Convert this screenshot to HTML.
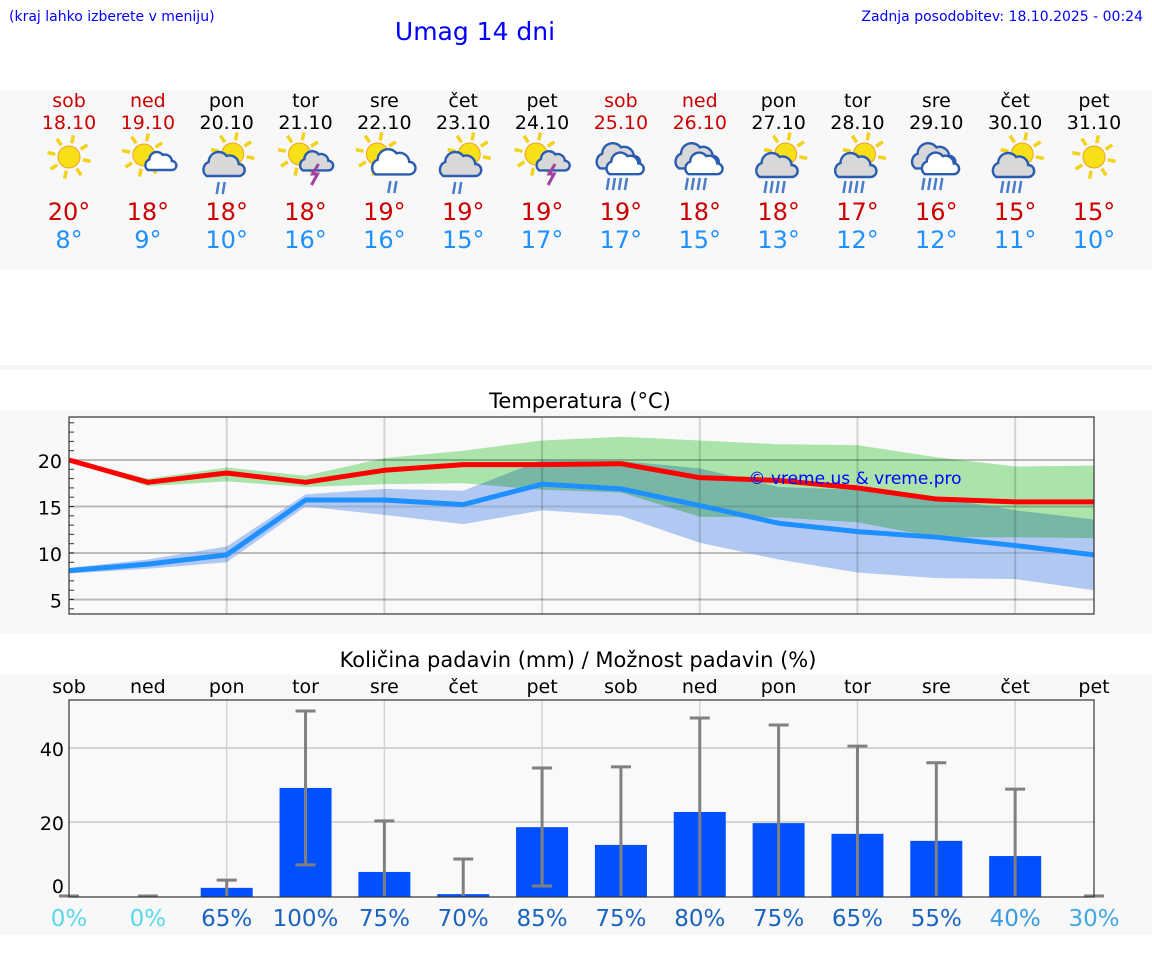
<!DOCTYPE html>
<html><head><meta charset="utf-8"><style>
html,body{margin:0;padding:0;background:#fff;}
body{width:1152px;height:975px;overflow:hidden;font-family:"DejaVu Sans","Liberation Sans",sans-serif;}
svg text{font-family:"DejaVu Sans","Liberation Sans",sans-serif;}
</style></head><body>
<svg id="root" width="1152" height="975" viewBox="0 0 1152 975" xmlns="http://www.w3.org/2000/svg">
<text x="9" y="21" font-size="14" fill="#0000ff">(kraj lahko izberete v meniju)</text>
<text x="475" y="40" font-size="25" fill="#0000ff" text-anchor="middle" font-family="Liberation Sans">Umag 14 dni</text>
<text x="1143" y="21" font-size="14" fill="#0000ff" text-anchor="end">Zadnja posodobitev: 18.10.2025 - 00:24</text>
<rect x="0" y="90" width="1152" height="180" fill="#f8f8f8"/>
<rect x="0" y="365" width="1152" height="5" fill="#f6f6f6"/>
<rect x="0" y="410" width="1152" height="224" fill="#f8f8f8"/>
<text x="580" y="408" font-size="21" text-anchor="middle" fill="#000">Temperatura (°C)</text>
<rect x="0" y="675" width="1152" height="260" fill="#f8f8f8"/>
<text x="578" y="667" font-size="21" text-anchor="middle" fill="#000">Količina padavin (mm) / Možnost padavin (%)</text>
<g id="days"></g>
<g id="temp"></g>
<g id="precip"></g>
</svg>
<script>
const dayNames=["sob","ned","pon","tor","sre","čet","pet","sob","ned","pon","tor","sre","čet","pet"];
const dates=["18.10","19.10","20.10","21.10","22.10","23.10","24.10","25.10","26.10","27.10","28.10","29.10","30.10","31.10"];
const weekend=[1,1,0,0,0,0,0,1,1,0,0,0,0,0];
const iconTypes=["sun","suncloud","sunrain","sunstorm","sunwhiterain","sunrain","sunstorm","rain","rain","sunheavy","sunheavy","rain","sunheavy","sun"];
const maxLabels=[20,18,18,18,19,19,19,19,18,18,17,16,15,15];
const minLabels=[8,9,10,16,16,15,17,17,15,13,12,12,11,10];
const maxTemps=[20.0,17.6,18.6,17.6,18.9,19.5,19.5,19.6,18.1,17.8,17.0,15.8,15.5,15.5];
const minTemps=[8.1,8.8,9.8,15.7,15.7,15.2,17.4,16.9,15.1,13.2,12.3,11.7,10.8,9.8];
const maxHi=[20.1,18.0,19.2,18.3,20.2,21.0,22.1,22.5,22.1,21.7,21.6,20.3,19.3,19.4];
const maxLo=[19.8,17.2,17.7,17.1,17.4,17.5,16.8,16.5,13.9,13.8,13.3,11.7,11.7,11.6];
const minHi=[8.4,9.3,10.7,16.3,16.9,16.7,20.0,19.9,19.1,17.1,16.8,16.0,14.6,13.6];
const minLo=[7.8,8.3,9.0,15.0,14.1,13.1,14.6,14.0,11.1,9.3,7.9,7.3,7.2,6.0];
const tempTicks=[5,10,15,20];
const precip=[0,0,2.2,29.2,6.5,0.5,18.6,13.8,22.7,19.7,16.8,14.9,10.8,0];
const precipLo=[0,0,0,8.4,0,0,2.7,0,0,0,0,0,0,0];
const precipHi=[0,0,4.3,50,20.3,10,34.6,34.9,48.1,46.2,40.5,36,28.9,0];
const chance=[0,0,65,100,75,70,85,75,80,75,65,55,40,30];
const precipTicks=[0,20,40];

const NS="http://www.w3.org/2000/svg";
function mk(tag,attrs,parent){const e=document.createElementNS(NS,tag);for(const k in attrs)e.setAttribute(k,attrs[k]);parent.appendChild(e);return e;}
const X0=69,X1=1094;
const xDay=i=>X0+i*(X1-X0)/13;

const gd=document.getElementById('days');
function sun(g,cx,cy,r){
  for(let k=0;k<8;k++){const a=k*Math.PI/4+0.2;mk('line',{x1:cx+Math.cos(a)*(r+3),y1:cy+Math.sin(a)*(r+3),x2:cx+Math.cos(a)*(r+11),y2:cy+Math.sin(a)*(r+11),stroke:'#f2d21b','stroke-width':3.5},g);}
  mk('circle',{cx:cx,cy:cy,r:r,fill:'#f7e018',stroke:'#f0a020','stroke-width':1},g);
}
function cloud(g,cx,cy,s,fill){
  const p=`M${cx-16*s},${cy+8*s} a${8*s},${8*s} 0 0 1 ${2*s},${-14*s} a${10*s},${10*s} 0 0 1 ${18*s},${-6*s} a${9*s},${9*s} 0 0 1 ${12*s},${8*s} a${6*s},${6*s} 0 0 1 ${0},${12*s} z`;
  mk('path',{d:p,fill:fill,stroke:'#2a5db0','stroke-width':2.4},g);
}
function drops(g,cx,cy,n){for(let k=0;k<n;k++){mk('line',{x1:cx+k*6,y1:cy,x2:cx+k*6-2,y2:cy+12,stroke:'#4a7cc8','stroke-width':2.5},g);}}
function bolt(g,cx,cy){mk('path',{d:`M${cx+4},${cy} L${cx-2},${cy+10} L${cx+3},${cy+10} L${cx-3},${cy+21}`,fill:'none',stroke:'#a040a0','stroke-width':3},g);}
dayNames.forEach((d,i)=>{
  const x=xDay(i);
  const g=mk('g',{},gd);
  
  
  const col=weekend[i]?'#cc0000':'#000';
  const t1=mk('text',{x:x,y:107,'font-size':19,'text-anchor':'middle',fill:col},g);t1.textContent=d;
  
  
  const t2=mk('text',{x:x,y:129,'font-size':19,'text-anchor':'middle',fill:col},g);t2.textContent=dates[i];
  
  
  const ic=mk('g',{},g);
  
  
  const t=iconTypes[i];
  if(t==='sun'){sun(ic,x,157,11);}
  else if(t==='suncloud'){sun(ic,x-4,155,11);cloud(ic,x+12,164,0.75,'#fff');}
  else if(t==='sunrain'){sun(ic,x+6,154,11);cloud(ic,x-4,168,1.0,'#d8d8d8');drops(ic,x-8,182,2);}
  else if(t==='sunstorm'){sun(ic,x-6,154,11);cloud(ic,x+10,164,0.8,'#d8d8d8');bolt(ic,x+9,164);}
  else if(t==='sunwhiterain'){sun(ic,x-7,154,11);cloud(ic,x+8,166,1.05,'#fff');drops(ic,x+6,181,2);}
  else if(t==='rain'){cloud(ic,x-4,160,1.05,'#d8d8d8');cloud(ic,x+3,167,0.9,'#fff');drops(ic,x-12,178,4);}
  else if(t==='sunheavy'){sun(ic,x+7,154,11);cloud(ic,x-3,169,1.0,'#d8d8d8');drops(ic,x-12,181,4);}
  const t3=mk('text',{x:x,y:220,'font-size':24,'text-anchor':'middle',fill:'#cc0000'},g);t3.textContent=maxLabels[i]+'°';
  
  
  const t4=mk('text',{x:x,y:248,'font-size':24,'text-anchor':'middle',fill:'#1e90ff'},g);t4.textContent=minLabels[i]+'°';
  
  
});

const gt=document.getElementById('temp');
const TY0=417,TY1=614;
const yT=v=>460-(v-20)*9.3;
mk('rect',{x:X0,y:TY0,width:X1-X0,height:TY1-TY0,fill:'#f9f9f9'},gt);
tempTicks.forEach(v=>{
  const l=mk('line',{x1:X0,x2:X1,y1:yT(v),y2:yT(v),stroke:'#d4d4d4','stroke-width':2},gt);
  
  
  const t=mk('text',{x:62,y:yT(v)+8,'font-size':19,'text-anchor':'end',fill:'#000'},gt);t.textContent=v;
  
  
});
for(let v=4;v<=24;v++){mk('line',{x1:X0,x2:X0+5,y1:yT(v),y2:yT(v),stroke:'#333','stroke-width':1},gt);}
function band(hi,lo,fill,name,blend){
  let d='M'+hi.map((v,i)=>xDay(i)+','+yT(v)).join(' L')+' L'+lo.map((v,i)=>xDay(i)+','+yT(v)).reverse().join(' L')+' Z';
  const p=mk('path',{d:d,fill:fill},gt);
  if(blend) p.setAttribute('style','mix-blend-mode:multiply');
  
  
}
const bandG=mk('g',{style:'isolation:isolate'},gt);
band(minHi,minLo,'#b0c8f2','min-temp-range',false);
band(maxHi,maxLo,'#aeeaae','max-temp-range',true);
[2,4,6,8,10,12].forEach(i=>{mk('line',{x1:xDay(i),x2:xDay(i),y1:TY0,y2:TY1,stroke:'rgba(0,0,0,0.15)','stroke-width':2},gt);});
tempTicks.forEach(v=>{mk('line',{x1:X0,x2:X1,y1:yT(v),y2:yT(v),stroke:'rgba(0,0,0,0.12)','stroke-width':2},gt);});
function line(arr,col,name){
  const p=mk('polyline',{points:arr.map((v,i)=>xDay(i)+','+yT(v)).join(' '),fill:'none',stroke:col,'stroke-width':5,'stroke-linejoin':'round'},gt);
  
  
}
line(maxTemps,'#ff0000','max-temp-line');
line(minTemps,'#1e90ff','min-temp-line');
mk('rect',{x:X0,y:TY0,width:X1-X0,height:TY1-TY0,fill:'none',stroke:'#333','stroke-width':1.2},gt);
const wm=mk('text',{x:855,y:484,'font-size':17,'text-anchor':'middle',fill:'#0000ff',"font-family":"Liberation Sans"},gt);wm.textContent='© vreme.us & vreme.pro';



const gp=document.getElementById('precip');
const PY0=700,PY1=897;
const yP=v=>896-v*3.7;
mk('rect',{x:X0,y:PY0,width:X1-X0,height:PY1-PY0,fill:'#f9f9f9'},gp);
precipTicks.forEach(v=>{
  if(v>0){const l=mk('line',{x1:X0,x2:X1,y1:yP(v),y2:yP(v),stroke:'#d4d4d4','stroke-width':2},gp);
  
  }
  const t=mk('text',{x:64,y:(v===0?yP(v)-3:yP(v)+8),'font-size':19,'text-anchor':'end',fill:'#000'},gp);t.textContent=v;
  
  
});
[2,4,6,8,10,12].forEach(i=>{mk('line',{x1:xDay(i),x2:xDay(i),y1:PY0,y2:PY1,stroke:'#d4d4d4','stroke-width':1.5},gp);});
precip.forEach((v,i)=>{
  const x=xDay(i);
  if(v>0){
    const b=mk('rect',{x:x-26,y:yP(v),width:52,height:PY1-yP(v),fill:'#0050ff'},gp);
    
    
  }
  const eg=mk('g',{stroke:'#808080','stroke-width':3},gp);
  
  
  mk('line',{x1:x,x2:x,y1:yP(precipLo[i]),y2:yP(precipHi[i])},eg);
  mk('line',{x1:x-10,x2:x+10,y1:yP(precipHi[i]),y2:yP(precipHi[i])},eg);
  if(precipLo[i]>0) mk('line',{x1:x-10,x2:x+10,y1:yP(precipLo[i]),y2:yP(precipLo[i])},eg);
  const dn=mk('text',{x:x,y:693,'font-size':19,'text-anchor':'middle',fill:'#000'},gp);dn.textContent=dayNames[i];
  
  
  const c=chance[i];
  const col=c===0?'#5ad8ea':(c<=30?'#44a8e0':(c<=40?'#3a9ae0':'#1a64c0'));
  const ct=mk('text',{x:x,y:926,'font-size':23,'text-anchor':'middle',fill:col},gp);ct.textContent=c+'%';
  
  
});
mk('rect',{x:X0,y:PY0,width:X1-X0,height:PY1-PY0,fill:'none',stroke:'#333','stroke-width':1.2},gp);
</script>
</body></html>
